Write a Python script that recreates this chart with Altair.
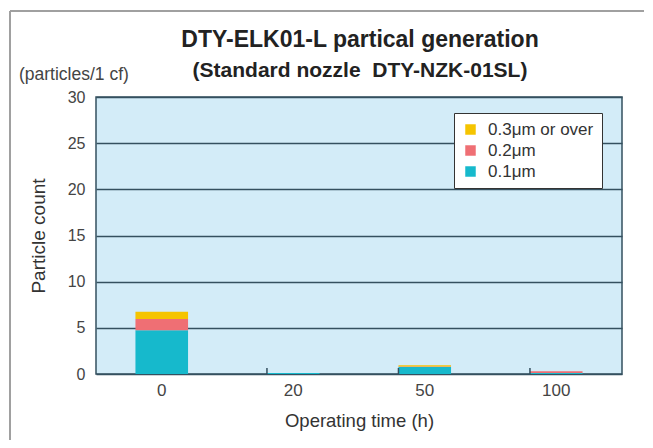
import altair as alt
import pandas as pd

times = ["0", "20", "50", "100"]
sizes = ["0.1μm", "0.2μm", "0.3μm or over"]
legend_order = ["0.3μm or over", "0.2μm", "0.1μm"]
colors = ["#f5c400", "#ef6f74", "#16b9cc"]
v01 = [4.75, 0.12, 0.75, 0.12]
v02 = [1.2, 0.0, 0.05, 0.18]
v03 = [0.8, 0.0, 0.15, 0.0]

title_text = "DTY-ELK01-L partical generation"
subtitle_text = "(Standard nozzle\u00a0\u00a0DTY-NZK-01SL)"
unit_text = "(particles/1 cf)"

rows = []
for i, t in enumerate(times):
    for k, (s, vals) in enumerate(zip(sizes, [v01, v02, v03])):
        rows.append({"time": t, "size": s, "count": vals[i], "ord": k})
df = pd.DataFrame(rows)

W, H = 526, 277
FONT = "Liberation Sans"
DARK = "#34505f"

x_enc = alt.X("time:N", sort=times, title="Operating time (h)",
              scale=alt.Scale(paddingInner=0.6, paddingOuter=0.3),
              axis=alt.Axis(labelAngle=0, ticks=False, domain=False, labelFontSize=17,
                            labelColor="#444", labelPadding=8, titleFontSize=18.5,
                            titleFontWeight="normal", titleColor="#333", titlePadding=13,
                            labelFont=FONT, titleFont=FONT))

bars = alt.Chart(df).mark_bar().encode(
    x=x_enc,
    y=alt.Y("count:Q", stack="zero", title="Particle count",
            scale=alt.Scale(domain=[0, 30]),
            axis=alt.Axis(values=[0, 5, 10, 15, 20, 25, 30], ticks=False, domain=False,
                          grid=True, gridColor=DARK, gridWidth=1.3, labelFontSize=16,
                          labelColor="#444", labelPadding=11, titleFontSize=19,
                          titleFontWeight="normal", titleColor="#333", titlePadding=19,
                          labelFont=FONT, titleFont=FONT)),
    color=alt.Color("size:N", scale=alt.Scale(domain=legend_order, range=colors),
                    legend=alt.Legend(title=None, orient="none", legendX=358, legendY=16,
                                      fillColor="white", strokeColor="#333", padding=8,
                                      symbolType="square", symbolSize=110, symbolStrokeWidth=0,
                                      labelFontSize=17, labelColor="#333", labelFont=FONT,
                                      rowPadding=3, labelOffset=9)),
    order=alt.Order("ord:Q", sort="ascending"),
)

tick_df = pd.DataFrame({"time": times[1:]})
ticks = alt.Chart(tick_df).mark_rule(color=DARK, strokeWidth=1.5).encode(
    x=alt.X("time:N", sort=times, bandPosition=0),
    y=alt.value(H),
    y2=alt.value(H - 6),
)

text_df = pd.DataFrame({"t": [unit_text], "a": [title_text], "b": [subtitle_text]})
unit = alt.Chart(text_df).mark_text(align="left", baseline="alphabetic", fontSize=17.5,
                                     color="#444", font=FONT).encode(
    text="t:N", x=alt.value(-77), y=alt.value(-17))

title = alt.Chart(text_df).mark_text(align="center", baseline="alphabetic", fontSize=23,
                                      fontWeight="bold", color="#222", font=FONT).encode(
    text="a:N", x=alt.value(W / 2 + 1), y=alt.value(-50))

subtitle = alt.Chart(text_df).mark_text(align="center", baseline="alphabetic", fontSize=21,
                                         fontWeight="bold", color="#222", font=FONT).encode(
    text="b:N", x=alt.value(W / 2 + 1), y=alt.value(-20))

frame_color = "#a0a0a0"
left_side = alt.Chart(text_df).mark_rule(color=frame_color, strokeWidth=2).encode(
    x=alt.value(-86), y=alt.value(-86), y2=alt.value(345))
top_side = alt.Chart(text_df).mark_rule(color=frame_color, strokeWidth=2).encode(
    x=alt.value(-86), x2=alt.value(W + 22), y=alt.value(-86))
bottom_side = alt.Chart(text_df).mark_rule(color="#d8d8d8", strokeWidth=1.5).encode(
    x=alt.value(-86), x2=alt.value(W + 22), y=alt.value(345))

chart = alt.layer(left_side, top_side, bottom_side, bars, ticks, unit, title, subtitle).properties(
    width=W, height=H,
    autosize=alt.AutoSizeParams(type="none"),
    padding={"left": 88, "top": 89, "right": 23, "bottom": 66},
).configure_view(fill="#d3ecf8", stroke=DARK, strokeWidth=1.5)

chart.save("out.html", embed_options={"renderer": "svg", "actions": False})
